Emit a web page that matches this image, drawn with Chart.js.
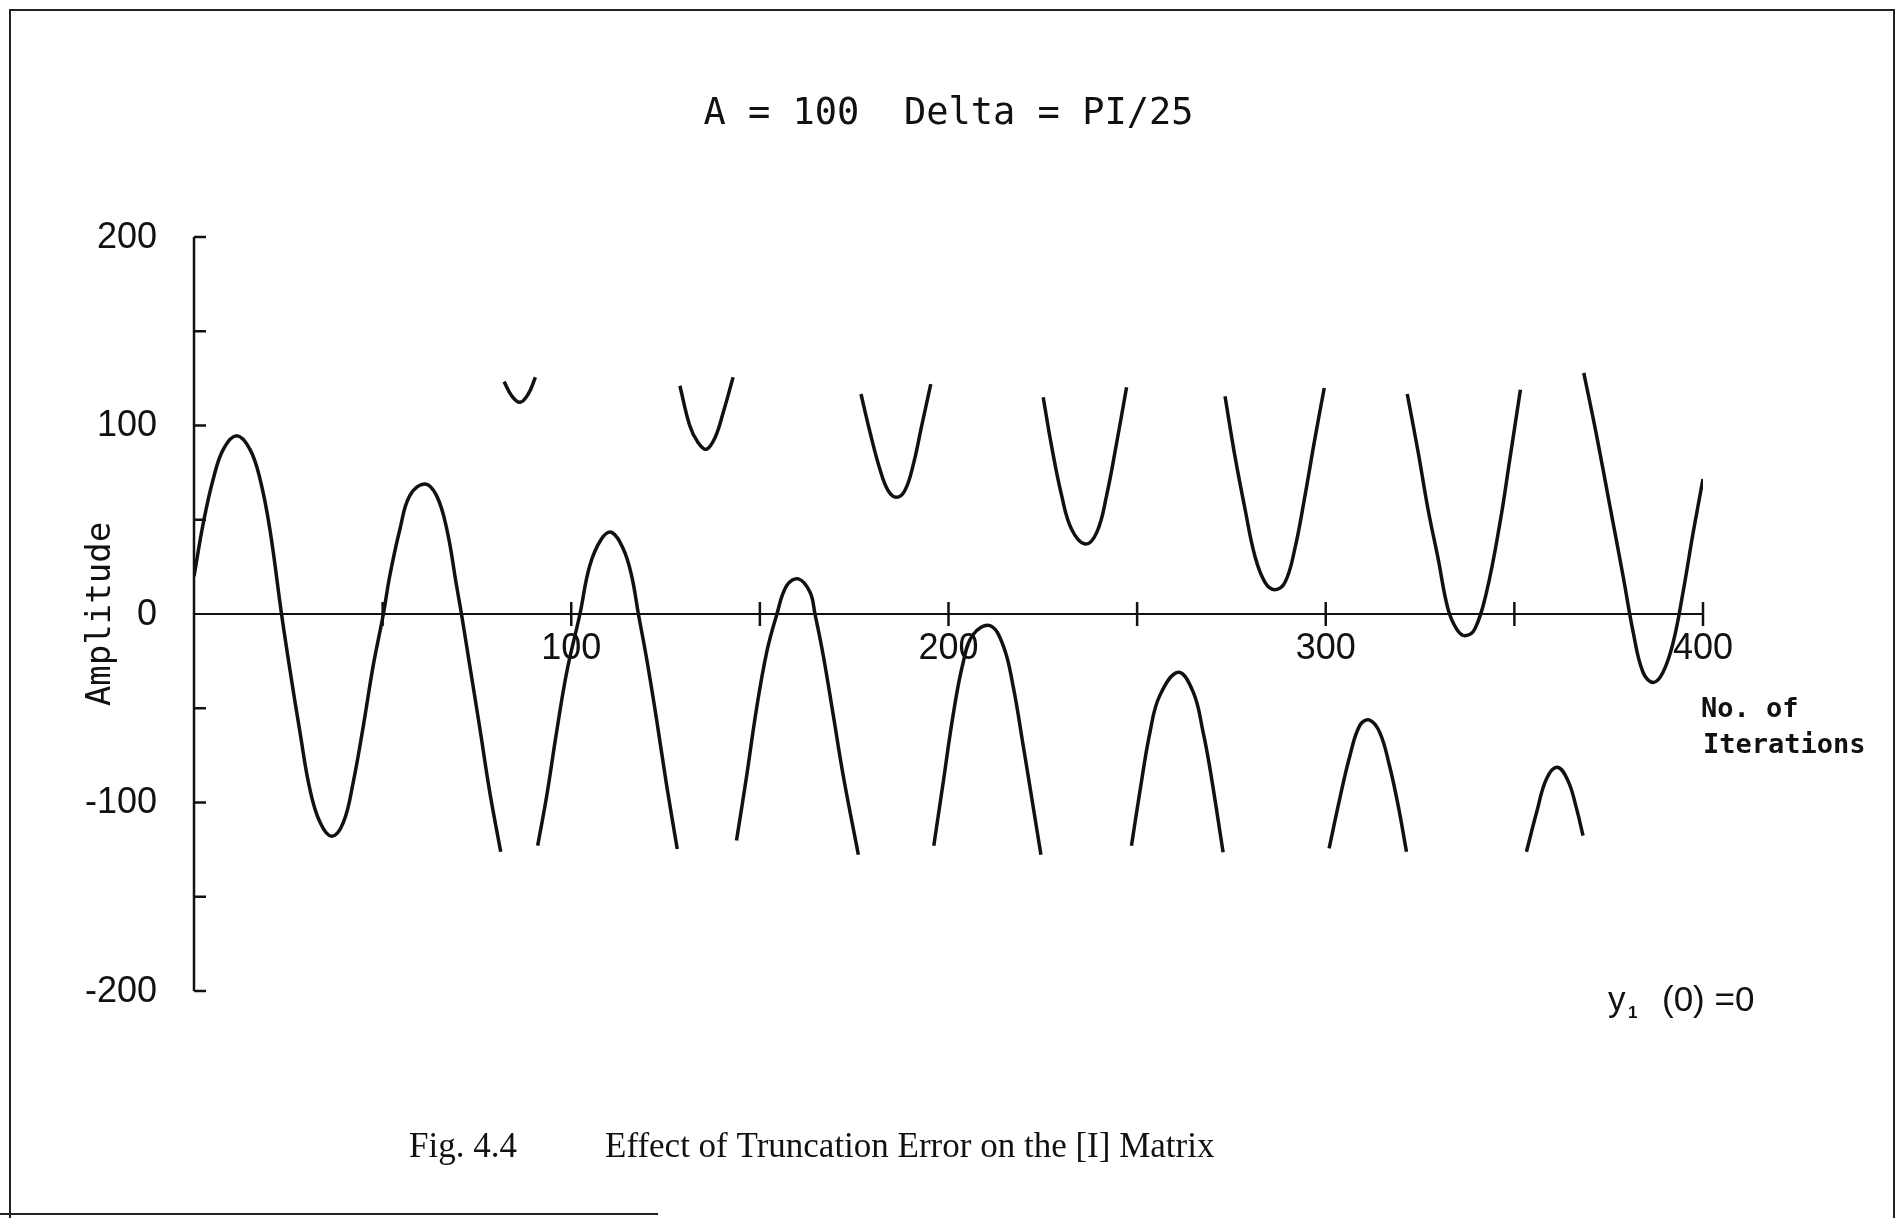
<!DOCTYPE html>
<html>
<head>
<meta charset="utf-8">
<script src="https://cdn.jsdelivr.net/npm/chart.js@4.4.0/dist/chart.umd.min.js"></script>
<style>
  html, body { margin: 0; padding: 0; background: #fff; }
  #wrap { position: relative; width: 1899px; height: 1218px; overflow: hidden; }
  canvas { position: absolute; left: 0; top: 0; }
  #frame { position: absolute; left: 9px; top: 9px; width: 1882px; height: 1215px;
           border-left: 2px solid #222; border-top: 2px solid #222; border-right: 2px solid #222; }
  #foot { position: absolute; left: 0; top: 1213px; width: 658px; height: 2px; background: #222; }
</style>
</head>
<body>
<div id="wrap">
  <canvas id="myChart" width="1899" height="1218"></canvas>
  <div id="frame"></div>
  <div id="foot"></div>
</div>
<script>
const title = "A = 100  Delta = PI/25";
const yTitle = "Amplitude";
const xTitle = ["No. of", "Iterations"];
const note = ["y", "1", "(0) =0"];
const caption = ["Fig. 4.4", "Effect of Truncation Error on the [I] Matrix"];

const yTicks = [-200, -150, -100, -50, 50, 100, 150, 200];
const yLabelValues = [-200, -100, 0, 100, 200];
const yLabels = ["-200", "-100", "0", "100", "200"];
const xTicks = [50, 100, 150, 200, 250, 300, 350, 400];
const xLabelValues = [100, 200, 300, 400];
const xLabels = ["100", "200", "300", "400"];

// one arc per line; null = pen lifted (wrap-around)
const iterations = [
  0, 2.5, 5.1, 7.8, 11.3, 14.8, 17.5, 20.1, 23.2, 25.4, 28.1, 30.7, 33.4, 36.5, 39.6, 42.2, 44.9, 47.5, 50.2,
  51.9, 54.6, 57.2, 61.2, 64.3, 67.0, 69.6, 70.9, 73.1, 75.8, 78.4, 81.3, null,
  82.2, 84.2, 86.4, 88.6, 90.5, null,
  91.1, 93.5, 96.1, 98.8, 102.3, 104.9, 108.0, 110.7, 113.8, 116.0, 117.8, 120.0, 122.6, 125.3, 128.1, null,
  128.8, 131.4, 133.6, 135.8, 138.1, 140.3, 142.9, null,
  143.8, 146.5, 149.1, 151.8, 154.4, 157.1, 160.2, 163.3, 164.6, 166.8, 169.4, 172.1, 176.1, null,
  176.8, 179.2, 181.8, 184.0, 186.2, 188.4, 190.6, 192.9, 195.3, null,
  196.1, 198.6, 201.2, 203.9, 206.5, 211.0, 214.5, 217.1, 219.8, 222.4, 224.5, null,
  225.1, 227.3, 230.0, 232.6, 236.2, 239.3, 241.9, 244.6, 247.2, null,
  248.5, 250.7, 253.4, 256.0, 260.9, 264.9, 267.5, 269.3, 272.8, null,
  273.3, 275.9, 278.6, 281.2, 283.9, 286.5, 289.2, 291.8, 294.5, 297.1, 299.6, null,
  300.9, 303.7, 306.4, 309.0, 311.5, 314.3, 316.9, 319.2, 321.4, null,
  321.6, 324.5, 327.1, 329.8, 332.4, 334.7, 336.9, 339.5, 342.6, 346.2, 348.8, 351.6, null,
  353.2, 355.9, 358.5, 361.4, 364.2, 366.5, 368.2, null,
  368.4, 371.8, 375.3, 378.8, 381.5, 384.1, 386.8, 389.4, 392.1, 394.7, 397.4, 400.0
];
const amplitude = [
  20, 48.6, 71.6, 87.5, 94.6, 87.5, 71.6, 45.1, 0, -29.2, -62.8, -92.8, -110.5, -117.9, -110.5, -89.3, -59.2, -27.4, 0,
  20.3, 45.1, 62.8, 69.0, 62.8, 45.1, 15.0, 0, -27.4, -61.0, -94.5, -126.1, null,
  123.3, 115.8, 112.3, 116.7, 125.6, null,
  -122.9, -96.4, -62.8, -30.9, 0, 25.6, 39.8, 43.3, 34.5, 20.3, 0, -23.9, -55.7, -91.1, -124.7, null,
  121.1, 100.0, 91.0, 87.4, 93.5, 107.0, 125.6, null,
  -120.2, -85.8, -50.4, -20.3, -0.9, 15.0, 18.6, 11.5, 0, -22.0, -53.0, -85.8, -127.7, null,
  116.7, 96.4, 76.9, 65.4, 61.9, 65.4, 78.7, 99.9, 122.0, null,
  -122.9, -89.3, -53.9, -25.6, -11.0, -6.2, -16.8, -38.0, -69.8, -101.7, -127.7, null,
  115.0, 89.3, 62.8, 45.1, 37.1, 43.3, 62.8, 91.1, 120.3, null,
  -122.9, -94.6, -62.8, -43.3, -30.9, -41.6, -62.8, -81.9, -126.4, null,
  115.5, 84.0, 55.7, 30.9, 16.8, 12.9, 16.8, 34.5, 62.8, 92.8, 119.9, null,
  -124.3, -98.1, -75.2, -59.2, -56.2, -62.8, -80.5, -101.7, -126.1, null,
  116.7, 85.8, 55.7, 29.2, 2.7, -8.0, -11.5, -8.0, 11.5, 48.6, 82.2, 119.0, null,
  -126.1, -105.2, -87.5, -81.3, -88.4, -103.4, -117.6, null,
  127.9, 94.6, 57.5, 20.3, -9.7, -30.9, -36.3, -30.9, -15.0, 11.5, 43.3, 71.6
];

const ink = '#111';

// plotter style axes, ticks and all the texts
const plotterAxes = {
    id: 'plotterAxes',
    beforeDatasetsDraw(chart) {
        const { ctx, chartArea, scales: { x, y } } = chart;
        const x0 = x.getPixelForValue(0);
        const y0 = y.getPixelForValue(0);
        ctx.save();
        ctx.strokeStyle = ink;
        ctx.fillStyle = ink;
        ctx.lineCap = 'butt';

        // y axis with inward ticks
        ctx.lineWidth = 2.5;
        ctx.beginPath();
        ctx.moveTo(x0, y.getPixelForValue(200));
        ctx.lineTo(x0, y.getPixelForValue(-200));
        ctx.stroke();
        yTicks.forEach(v => {
            const py = y.getPixelForValue(v);
            ctx.beginPath();
            ctx.moveTo(x0, py);
            ctx.lineTo(x0 + 12, py);
            ctx.stroke();
        });

        // x axis through zero, ticks crossing it
        ctx.lineWidth = 2;
        ctx.beginPath();
        ctx.moveTo(x0, y0);
        ctx.lineTo(x.getPixelForValue(400), y0);
        ctx.stroke();
        ctx.lineWidth = 2.5;
        xTicks.forEach(v => {
            const px = x.getPixelForValue(v);
            ctx.beginPath();
            ctx.moveTo(px, y0 - 12);
            ctx.lineTo(px, y0 + 12);
            ctx.stroke();
        });

        // tick labels
        ctx.font = '36px "Liberation Sans"';
        ctx.textBaseline = 'middle';
        ctx.textAlign = 'right';
        yLabelValues.forEach((v, i) => {
            ctx.fillText(yLabels[i], x0 - 37, y.getPixelForValue(v) + 1);
        });
        ctx.textAlign = 'center';
        xLabelValues.forEach((v, i) => {
            ctx.fillText(xLabels[i], x.getPixelForValue(v), y0 + 35);
        });

        // title
        ctx.font = '37px "DejaVu Sans Mono"';
        ctx.fillText(title, (chartArea.left + chartArea.right) / 2, 114);

        // y title
        ctx.save();
        ctx.translate(101, y0);
        ctx.rotate(-Math.PI / 2);
        ctx.font = '34px "DejaVu Sans Mono"';
        ctx.fillText(yTitle, 0, 0);
        ctx.restore();

        // x title
        ctx.textAlign = 'left';
        ctx.font = 'bold 27px "DejaVu Sans Mono"';
        const xr = x.getPixelForValue(400);
        ctx.fillText(xTitle[0], xr - 2, y0 + 96);
        ctx.fillText(xTitle[1], xr, y0 + 132);

        // initial condition note
        const yb = y.getPixelForValue(-200);
        ctx.font = '35px "Liberation Sans"';
        ctx.fillText(note[0], 1608, yb + 10);
        ctx.font = 'bold 17px "Liberation Sans"';
        ctx.fillText(note[1], 1628, yb + 22);
        ctx.font = '35px "Liberation Sans"';
        ctx.fillText(note[2], 1662, yb + 10);

        // figure caption
        ctx.textBaseline = 'alphabetic';
        ctx.font = '35px "Liberation Serif"';
        ctx.fillText(caption[0], 409, 1157);
        ctx.fillText(caption[1], 605, 1157);
        ctx.restore();
    }
};

const points = iterations.map((v, i) => ({ x: v, y: amplitude[i] }));
const ctx = document.getElementById("myChart").getContext("2d");

let chart = new Chart(ctx, {
    type: 'line',
    data: {
        datasets: [{
            label: 'y1',
            data: points,
            borderColor: ink,
            borderWidth: 3.5,
            pointRadius: 0,
            fill: false,
            spanGaps: false,
            tension: 0.4
        }]
    },
    options: {
        responsive: false,
        animation: false,
        devicePixelRatio: 1,
        layout: {
            padding: { left: 194, right: 196, top: 237, bottom: 227 }
        },
        plugins: {
            legend: { display: false },
            tooltip: { enabled: false }
        },
        scales: {
            x: { type: 'linear', min: 0, max: 400, display: false },
            y: { type: 'linear', min: -200, max: 200, display: false }
        }
    },
    plugins: [plotterAxes]
});
</script>
</body>
</html>
